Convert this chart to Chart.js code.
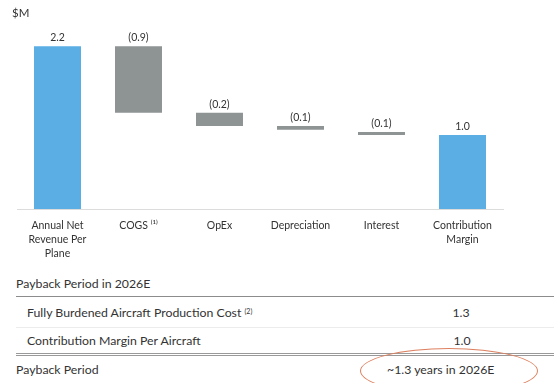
<!DOCTYPE html>
<html>
<head>
<meta charset="utf-8">
<script src="https://cdn.jsdelivr.net/npm/chart.js@4.4.0/dist/chart.umd.min.js"></script>
<style>
  html, body { margin: 0; padding: 0; background: #fff; }
  body { width: 554px; height: 383px; overflow: hidden; position: relative; font-family: Lato, "Noto Sans", sans-serif; color: #333; }
  #chart-wrap { position: absolute; left: 0; top: 0; width: 554px; height: 265px; }
  .unit { position: absolute; left: 12px; top: 6px; font-size: 11.5px; }
  .txt { position: absolute; font-size: 12.3px; line-height: 16px; white-space: nowrap; }
  .num { position: absolute; font-size: 12.3px; line-height: 16px; text-align: center; width: 60px; }
  .rule { position: absolute; left: 16px; right: 0; }
  sup { font-size: 7px; vertical-align: top; position: relative; top: -2px; }
  .ring { position: absolute; left: 360px; top: 348px; width: 176px; height: 44px; border: 1.5px solid #dd8060; border-radius: 50%; }
</style>
</head>
<body>
<div id="chart-wrap"><canvas id="waterfall"></canvas></div>
<div class="unit">$M</div>

<div class="txt" style="left:16px; top:276px;">Payback Period in 2026E</div>
<div class="rule" style="top:296px; border-top:1.5px solid #8c8c8c;"></div>
<div class="txt" style="left:27px; top:305px;">Fully Burdened Aircraft Production Cost <sup>(2)</sup></div>
<div class="num" style="left:431px; top:305px;" id="costVal"></div>
<div class="rule" style="top:327px; border-top:1px solid #ececec;"></div>
<div class="txt" style="left:27px; top:333px;">Contribution Margin Per Aircraft</div>
<div class="num" style="left:432px; top:333px;" id="marginVal"></div>
<div class="rule" style="top:353px; border-top:3px double #999;"></div>
<div class="txt" style="left:16px; top:362px;">Payback Period</div>
<div class="txt" style="left:387px; top:362px;" id="paybackVal"></div>
<div class="ring"></div>

<script>
// data
let categories = [['Annual Net', 'Revenue Per', 'Plane'], ['COGS \u207D\u00B9\u207E'], ['OpEx'], ['Depreciation'], ['Interest'], ['Contribution', 'Margin']]
let barStart = [0, 1.3, 1.12, 1.07, 1.0, 0]
let barEnd = [2.2, 2.2, 1.3, 1.12, 1.04, 1.0]
let valueLabels = ['2.2', '(0.9)', '(0.2)', '(0.1)', '(0.1)', '1.0']
let barKind = ['total', 'step', 'step', 'step', 'step', 'total']

// payback table
let productionCost = '1.3'
let marginPerAircraft = '1.0'
let paybackText = '~1.3 years in 2026E'

document.getElementById('costVal').textContent = productionCost
document.getElementById('marginVal').textContent = marginPerAircraft
document.getElementById('paybackVal').textContent = paybackText

let blue = '#5aaee3'
let grey = '#8e9394'

let ranges = []
for (let i = 0; i < barStart.length; i++)
{
    ranges.push([barStart[i], barEnd[i]])
}

// value labels above each bar
let valueLabelPlugin = {
    id: 'valueLabels',
    afterDatasetsDraw(chart)
    {
        let ctx = chart.ctx
        let meta = chart.getDatasetMeta(0)
        ctx.save()
        ctx.font = '10.5px Lato, "Noto Sans", sans-serif'
        ctx.fillStyle = '#333'
        ctx.textAlign = 'center'
        ctx.textBaseline = 'bottom'
        meta.data.forEach((bar, i) => {
            let top = Math.min(bar.y, bar.base)
            ctx.fillText(valueLabels[i], bar.x, top - 3)
        })
        ctx.restore()
    }
}

let ctx = document.getElementById('waterfall').getContext('2d')
let chart = new Chart(ctx, {
    type: 'bar',
    data: {
        labels: categories,
        datasets: [{
            data: ranges,
            backgroundColor: barKind.map(k => k == 'total' ? blue : grey),
            borderWidth: 0,
            categoryPercentage: 1,
            barPercentage: 0.58
        }]
    },
    options: {
        responsive: true,
        maintainAspectRatio: false,
        animation: false,
        layout: { padding: { left: 17, right: 51, top: 24, bottom: 0 } },
        plugins: {
            legend: { display: false },
            tooltip: { enabled: false }
        },
        scales: {
            x: {
                grid: { display: false, drawTicks: false },
                border: { display: true, color: '#dcdcdc', width: 1 },
                ticks: {
                    color: '#333',
                    font: { family: 'Lato, "Noto Sans", sans-serif', size: 10.5, lineHeight: 1.3 },
                    padding: 10,
                    maxRotation: 0,
                    autoSkip: false
                },
                afterFit: (scale) => { scale.height = 56 }
            },
            y: {
                display: false,
                min: 0,
                max: 2.5
            }
        }
    },
    plugins: [valueLabelPlugin]
})
</script>
</body>
</html>
